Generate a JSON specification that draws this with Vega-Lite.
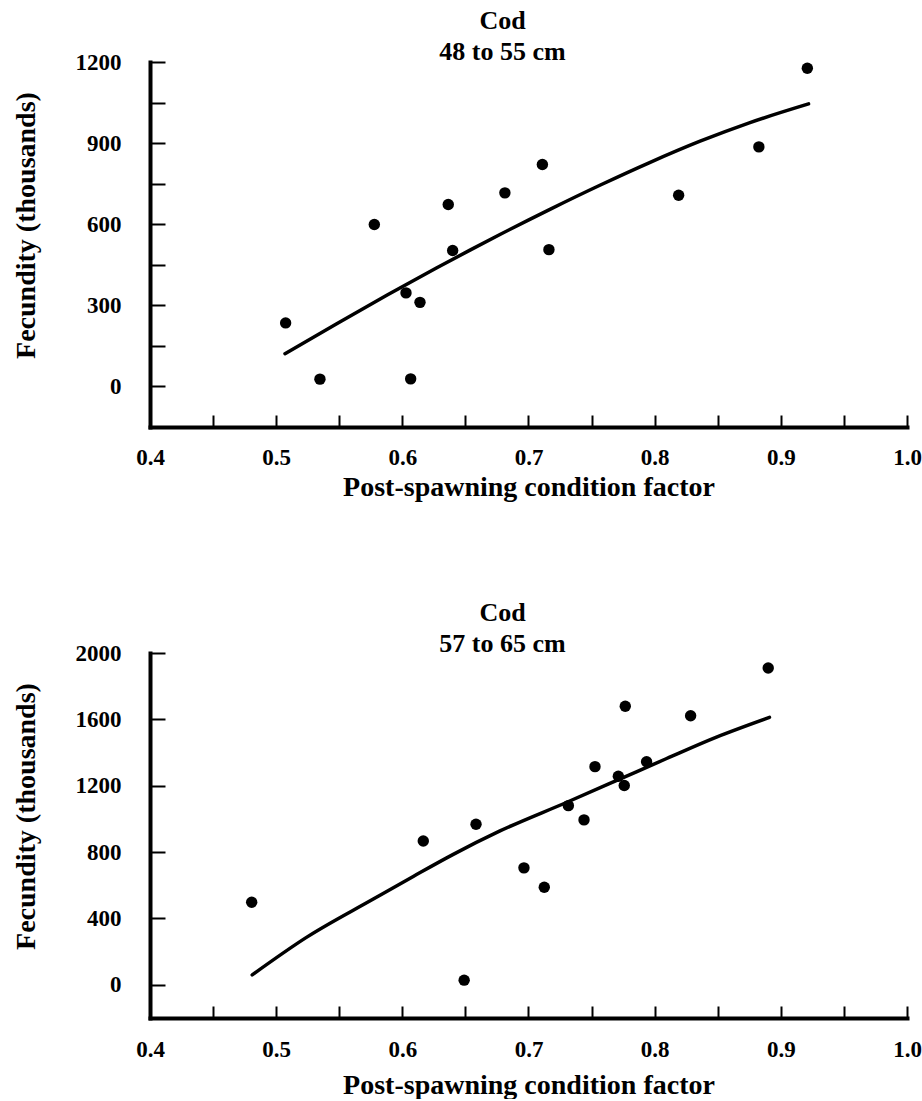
{
  "$schema": "https://vega.github.io/schema/vega-lite/v6.json",
  "padding": {"left": 12, "top": 8, "right": 0, "bottom": 0},
  "background": "white",
  "spacing": 99,
  "config": {
    "font": "Liberation Serif",
    "view": {"stroke": null},
    "axis": {
      "labelFont": "Liberation Serif", "labelFontWeight": "bold", "labelFontSize": 23, "labelColor": "black",
      "titleFont": "Liberation Serif", "titleFontWeight": "bold", "titleFontSize": 28, "titleColor": "black",
      "domainColor": "black", "domainWidth": 4, "domainCap": "square",
      "tickColor": "black", "tickWidth": 2,
      "grid": false, "labelOverlap": false, "labelFlush": false
    },
    "title": {"font": "Liberation Serif", "fontSize": 26, "fontWeight": "bold", "color": "black", "lineHeight": 31, "dx": -26}
  },
  "datasets": {
    "top_points": [
      {"k": 0.5075, "f": 235}, {"k": 0.5347, "f": 27}, {"k": 0.5778, "f": 599}, {"k": 0.6029, "f": 346},
      {"k": 0.614, "f": 311}, {"k": 0.6066, "f": 28}, {"k": 0.6364, "f": 673}, {"k": 0.6399, "f": 503},
      {"k": 0.6813, "f": 716}, {"k": 0.711, "f": 821}, {"k": 0.7162, "f": 506}, {"k": 0.819, "f": 707},
      {"k": 0.8826, "f": 886}, {"k": 0.921, "f": 1177}
    ],
    "top_curve": [
      {"k": 0.507, "f": 121}, {"k": 0.548, "f": 232}, {"k": 0.588, "f": 338}, {"k": 0.627, "f": 438},
      {"k": 0.654, "f": 505}, {"k": 0.677, "f": 561}, {"k": 0.717, "f": 655}, {"k": 0.757, "f": 745},
      {"k": 0.796, "f": 828}, {"k": 0.836, "f": 907}, {"k": 0.875, "f": 975}, {"k": 0.922, "f": 1045}
    ],
    "bottom_points": [
      {"k": 0.4806, "f": 498}, {"k": 0.6166, "f": 867}, {"k": 0.649, "f": 28}, {"k": 0.6584, "f": 968},
      {"k": 0.6964, "f": 705}, {"k": 0.7125, "f": 588}, {"k": 0.7316, "f": 1080}, {"k": 0.744, "f": 994},
      {"k": 0.7527, "f": 1315}, {"k": 0.7712, "f": 1257}, {"k": 0.7759, "f": 1201}, {"k": 0.7767, "f": 1679},
      {"k": 0.7936, "f": 1345}, {"k": 0.8285, "f": 1622}, {"k": 0.89, "f": 1910}
    ],
    "bottom_curve": [
      {"k": 0.481, "f": 60}, {"k": 0.524, "f": 286}, {"k": 0.577, "f": 517}, {"k": 0.609, "f": 655},
      {"k": 0.640, "f": 785}, {"k": 0.677, "f": 926}, {"k": 0.730, "f": 1099}, {"k": 0.770, "f": 1232},
      {"k": 0.8095, "f": 1364}, {"k": 0.849, "f": 1493}, {"k": 0.891, "f": 1612}
    ]
  },
  "vconcat": [
    {
      "width": 757, "height": 365,
      "title": {"text": ["Cod", "48 to 55 cm"], "offset": -14},
      "layer": [
        {
          "data": {"name": "top_points"},
          "mark": {"type": "point", "filled": true, "color": "black", "size": 130, "opacity": 1},
          "encoding": {
            "x": {"field": "k", "type": "quantitative", "scale": {"domain": [0.4, 1.0], "nice": false, "zero": false},
              "axis": {"title": "Post-spawning condition factor",
                "values": [0.4, 0.45, 0.5, 0.55, 0.6, 0.65, 0.7, 0.75, 0.8, 0.85, 0.9, 0.95, 1.0],
                "labelExpr": "abs(datum.value*10 - round(datum.value*10)) < 0.001 ? format(datum.value, '.1f') : ''",
                "tickSize": -12, "labelPadding": 31, "titlePadding": 4,
                "encode": {"ticks": {"update": {"y2": {"signal": "abs(datum.value*10 - round(datum.value*10)) < 0.001 ? -12 : -8"}}}}}},
            "y": {"field": "f", "type": "quantitative", "scale": {"domain": [-150, 1200], "nice": false, "zero": false},
              "axis": {"title": "Fecundity (thousands)",
                "values": [0, 150, 300, 450, 600, 750, 900, 1050, 1200],
                "labelExpr": "datum.value % 300 == 0 ? format(datum.value, 'd') : ''",
                "tickSize": -15, "labelPadding": 44, "titlePadding": 35, "titleY": 163,
                "encode": {"ticks": {"update": {"x2": {"signal": "datum.value % 300 == 0 ? 15 : 11"}}}}}}
          }
        },
        {
          "data": {"name": "top_curve"},
          "mark": {"type": "line", "color": "black", "strokeWidth": 3.5, "strokeCap": "round", "interpolate": "monotone"},
          "encoding": {
            "x": {"field": "k", "type": "quantitative"},
            "y": {"field": "f", "type": "quantitative"}
          }
        }
      ]
    },
    {
      "width": 757, "height": 365,
      "title": {"text": ["Cod", "57 to 65 cm"], "offset": -15},
      "layer": [
        {
          "data": {"name": "bottom_points"},
          "mark": {"type": "point", "filled": true, "color": "black", "size": 130, "opacity": 1},
          "encoding": {
            "x": {"field": "k", "type": "quantitative", "scale": {"domain": [0.4, 1.0], "nice": false, "zero": false},
              "axis": {"title": "Post-spawning condition factor",
                "values": [0.4, 0.45, 0.5, 0.55, 0.6, 0.65, 0.7, 0.75, 0.8, 0.85, 0.9, 0.95, 1.0],
                "labelExpr": "abs(datum.value*10 - round(datum.value*10)) < 0.001 ? format(datum.value, '.1f') : ''",
                "tickSize": -12, "labelPadding": 32, "titlePadding": 10,
                "encode": {"ticks": {"update": {"y2": {"signal": "abs(datum.value*10 - round(datum.value*10)) < 0.001 ? -12 : -8"}}}}}},
            "y": {"field": "f", "type": "quantitative", "scale": {"domain": [-200, 2000], "nice": false, "zero": false},
              "axis": {"title": "Fecundity (thousands)",
                "values": [0, 200, 400, 600, 800, 1000, 1200, 1400, 1600, 1800, 2000],
                "labelExpr": "datum.value % 400 == 0 ? format(datum.value, 'd') : ''",
                "tickSize": -15, "labelPadding": 44, "titlePadding": 35, "titleY": 163,
                "encode": {"ticks": {"update": {"x2": {"signal": "datum.value % 400 == 0 ? 15 : 11"}}}}}}
          }
        },
        {
          "data": {"name": "bottom_curve"},
          "mark": {"type": "line", "color": "black", "strokeWidth": 3.5, "strokeCap": "round", "interpolate": "monotone"},
          "encoding": {
            "x": {"field": "k", "type": "quantitative"},
            "y": {"field": "f", "type": "quantitative"}
          }
        }
      ]
    }
  ]
}
